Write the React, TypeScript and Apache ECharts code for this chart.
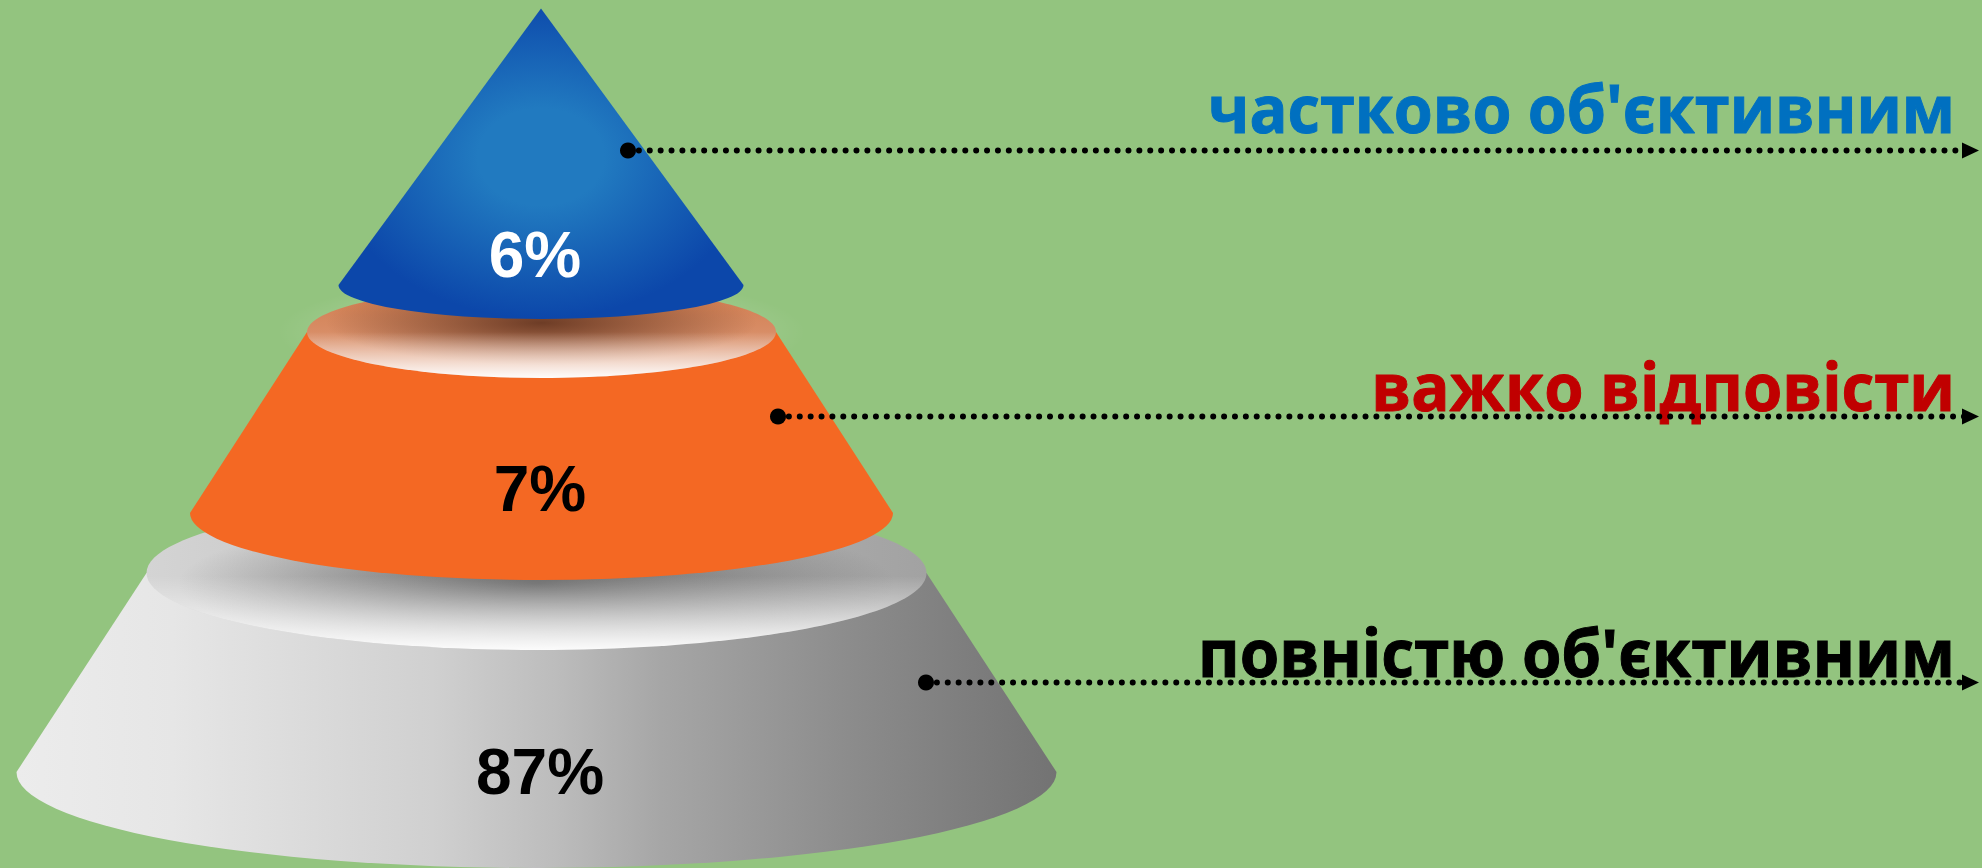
import React, { useEffect, useRef } from "react";
import * as echarts from "echarts";

// ---- data (bottom segment first, drawing order) ----
const categories = ["повністю об'єктивним", "важко відповісти", "частково об'єктивним"];
const percentValues = [87, 7, 6];

// ---- layout in pixel-like axis units, kept apart from the data ----
const W = 1982;
const H = 868;
const BG = "#93c47f";

const bodies = [
  { cx: 536.5, topY: 573, topRx: 390, topRy: 77, baseY: 772, baseRx: 520, baseRy: 96 },
  { cx: 541.5, topY: 332, topRx: 234.5, topRy: 46, baseY: 513, baseRx: 351.5, baseRy: 67 },
  { cx: 541, topY: 8.5, topRx: 0, topRy: 0, baseY: 285, baseRx: 202.5, baseRy: 34 },
];
const percentLabelPos = [
  { x: 540, y: 795, color: "#000000" },
  { x: 540, y: 512, color: "#000000" },
  { x: 535, y: 278, color: "#ffffff" },
];
const callouts = [
  { startX: 926, y: 682.5, textY: 675.5, color: "#000000", squeeze: 0.968 },
  { startX: 778, y: 416.5, textY: 410, color: "#c00000", squeeze: 0.962 },
  { startX: 628, y: 150.5, textY: 131.5, color: "#0070c0", squeeze: 0.955 },
];
const LINE_END_X = 1964;
const ARROW_TIP_X = 1979;
const TEXT_RIGHT_X = 1955;

const linear = (x2: number, y2: number, stops: [number, string][]) =>
  new echarts.graphic.LinearGradient(0, 0, x2, y2, stops.map(([offset, color]) => ({ offset, color })));
const radial = (x: number, y: number, r: number, stops: [number, string][]) =>
  new echarts.graphic.RadialGradient(x, y, r, stops.map(([offset, color]) => ({ offset, color })));

const bodyFills = [
  linear(1, 0, [
    [0, "#ececec"],
    [0.15, "#e6e6e6"],
    [0.4, "#d0d0d0"],
    [0.52, "#bcbcbc"],
    [0.62, "#a6a6a6"],
    [0.8, "#8c8c8c"],
    [1, "#737373"],
  ]),
  "#f46823",
  radial(0.5, 0.478, 0.52, [
    [0, "#217ac0"],
    [0.3, "#217ac0"],
    [1, "#0c47aa"],
  ]),
];
const capLayers: any[][] = [
  [
    linear(1, 0, [
      [0, "#d4d4d4"],
      [1, "#a2a2a2"],
    ]),
    radial(0.5, 0.57, 0.46, [
      [0, "rgba(85,85,85,0.8)"],
      [1, "rgba(85,85,85,0)"],
    ]),
    linear(0, 1, [
      [0.52, "rgba(255,255,255,0)"],
      [1, "rgba(255,255,255,0.95)"],
    ]),
  ],
  [
    linear(0, 1, [
      [0, "#d07a4c"],
      [1, "#e0a080"],
    ]),
    radial(0.5, 0.4, 0.46, [
      [0, "rgba(95,50,30,0.88)"],
      [1, "rgba(95,50,30,0)"],
    ]),
    linear(0, 1, [
      [0.5, "rgba(255,255,255,0)"],
      [1, "rgba(255,255,255,0.97)"],
    ]),
  ],
  [],
];

const renderSegment = (params: any, api: any) => {
  const i = params.dataIndex;
  const b = bodies[i];
  const [cx, topY] = api.coord([b.cx, b.topY]);
  const [, baseY] = api.coord([b.cx, b.baseY]);
  const children: any[] = [];

  if (i === 1) {
    // faint halo around the orange cap
    children.push({
      type: "ellipse",
      shape: { cx, cy: topY, rx: b.topRx + 30, ry: b.topRy + 12 },
      style: {
        fill: radial(0.5, 0.5, 0.5, [
          [0, "rgba(255,255,255,0.12)"],
          [0.8, "rgba(255,255,255,0.08)"],
          [1, "rgba(255,255,255,0)"],
        ]),
      },
      silent: true,
    });
  }

  const pathData =
    `M${cx - b.topRx} ${topY}L${cx - b.baseRx} ${baseY}` +
    `A${b.baseRx} ${b.baseRy} 0 0 0 ${cx + b.baseRx} ${baseY}` +
    `L${cx + b.topRx} ${topY}Z`;
  children.push({
    type: "path",
    shape: {
      pathData,
      layout: "cover",
      x: cx - b.baseRx,
      y: topY,
      width: b.baseRx * 2,
      height: baseY + b.baseRy - topY,
    },
    style: { fill: bodyFills[i] },
  });

  capLayers[i].forEach((fill) => {
    children.push({
      type: "ellipse",
      shape: { cx, cy: topY, rx: b.topRx, ry: b.topRy },
      style: { fill },
    });
  });

  const p = percentLabelPos[i];
  const [lx, ly] = api.coord([p.x, p.y]);
  children.push({
    type: "text",
    style: {
      x: lx,
      y: ly - 23,
      text: `${api.value(1)}%`,
      fill: p.color,
      font: 'bold 64px "Liberation Sans", Arial, sans-serif',
      align: "center",
      verticalAlign: "middle",
    },
  });
  return { type: "group", children };
};

const renderCallout = (params: any, api: any) => {
  const i = params.dataIndex;
  const c = callouts[i];
  const [sx, y] = api.coord([c.startX, c.y]);
  const [ex] = api.coord([LINE_END_X, c.y]);
  const [tip] = api.coord([ARROW_TIP_X, c.y]);
  const [tx, ty] = api.coord([TEXT_RIGHT_X, c.textY]);
  return {
    type: "group",
    children: [
      {
        type: "text",
        x: tx,
        y: ty - 24,
        scaleX: c.squeeze,
        style: {
          x: 0,
          y: 0,
          text: categories[i],
          fill: c.color,
          stroke: c.color,
          lineWidth: 1,
          font: 'bold 66px "Open Sans", sans-serif',
          align: "right",
          verticalAlign: "middle",
        },
      },
      {
        type: "line",
        shape: { x1: sx, y1: y, x2: ex, y2: y },
        style: { stroke: "#000", lineWidth: 6, lineCap: "round", lineDash: [0.01, 10.87] },
      },
      { type: "circle", shape: { cx: sx, cy: y, r: 8 }, style: { fill: "#000" } },
      {
        type: "polygon",
        shape: { points: [[ex - 2, y - 8], [tip, y], [ex - 2, y + 8]] },
        style: { fill: "#000" },
      },
    ],
  };
};

export default function App() {
  const ref = useRef<HTMLDivElement>(null);
  useEffect(() => {
    document.body.style.margin = "0";
    document.body.style.overflow = "hidden";
    const chart = echarts.init(ref.current!, undefined, { renderer: "svg" });
    const data = categories.map((name, i) => ({ name, value: [i, percentValues[i]] }));
    chart.setOption({
      animation: false,
      backgroundColor: BG,
      grid: { left: 0, right: 0, top: 0, bottom: 0 },
      xAxis: { type: "value", min: 0, max: W, show: false },
      yAxis: { type: "value", min: 0, max: H, inverse: true, show: false },
      series: [
        { type: "custom", coordinateSystem: "cartesian2d", clip: false, silent: true, data, renderItem: renderSegment, z: 1 },
        { type: "custom", coordinateSystem: "cartesian2d", clip: false, silent: true, data, renderItem: renderCallout, z: 2 },
      ],
    });
    return () => chart.dispose();
  }, []);
  return <div ref={ref} style={{ width: W, height: H }} />;
}
